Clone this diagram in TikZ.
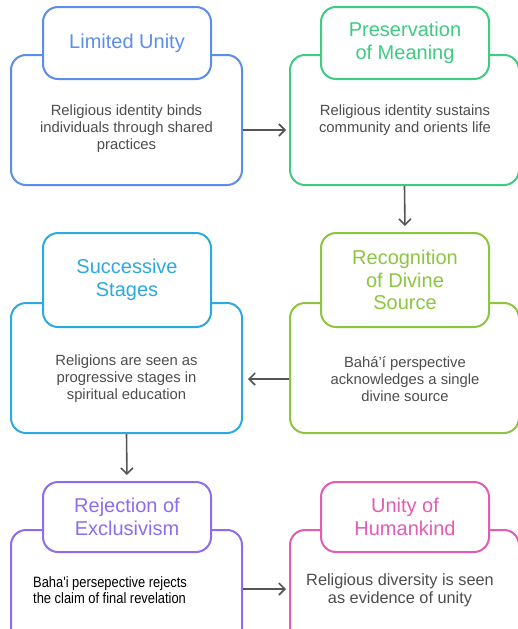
\documentclass[tikz,border=0pt]{standalone}
\usepackage{fontspec}
\setmainfont{Liberation Sans}
\newfontfamily\narrowfont[FakeStretch=0.86]{Liberation Sans}
\usetikzlibrary{arrows.meta}

\definecolor{cblue}{HTML}{5B8DEE}
\definecolor{cgreen}{HTML}{3FCB80}
\definecolor{ccyan}{HTML}{2DA9E1}
\definecolor{clime}{HTML}{8CC63F}
\definecolor{cpurple}{HTML}{8E6CF0}
\definecolor{cpink}{HTML}{E35BB4}
\definecolor{bodygray}{HTML}{4D4D4D}
\definecolor{linkgray}{HTML}{555555}

\tikzset{
  outerbox/.style={draw=#1, line width=2pt, rounded corners=15pt, fill=white,
    minimum height=130pt, inner sep=0pt},
  leftcol/.style={minimum width=231pt},
  rightcol/.style={minimum width=229pt},
  titlebox/.style={draw=#1, line width=2pt, rounded corners=15pt, fill=white,
    minimum width=168pt, inner sep=0pt, text=#1, align=center,
    font=\fontsize{20}{23.5}\selectfont},
  bodytext/.style={text=bodygray, align=center, inner sep=0pt,
    font=\fontsize{14.8}{17}\selectfont},
  conn/.style={draw=linkgray, line width=1.6pt,
    -{Straight Barb[length=6pt,width=12pt,line width=1.6pt]}},
}

\begin{document}
\begin{tikzpicture}[x=1pt,y=-1pt]
\useasboundingbox (0,0) rectangle (518,629);
\clip (0,0) rectangle (518,629);

% row 1
\node[outerbox=cblue, leftcol] (lu) at (126.5,120) {};
\node[titlebox=cblue, minimum height=72pt] (lu-t) at (127,43) {Limited Unity};
\node[bodytext] (lu-b) at (126.5,129) {Religious identity binds\\individuals through shared\\practices};

\node[outerbox=cgreen, rightcol] (pm) at (404.5,120) {};
\node[titlebox=cgreen, minimum height=72pt] (pm-t) at (405,43) {Preservation\\of Meaning};
\node[bodytext] (pm-b) at (405,120.5) {Religious identity sustains\\community and orients life};

% row 2
\node[outerbox=ccyan, leftcol] (ss) at (126.5,368) {};
\node[titlebox=ccyan, minimum height=94pt] (ss-t) at (127,280) {Successive\\Stages};
\node[bodytext] (ss-b) at (126.5,379) {Religions are seen as\\progressive stages in\\spiritual education};

\node[outerbox=clime, rightcol] (rd) at (404.5,368) {};
\node[titlebox=clime, minimum height=94pt, font=\fontsize{20}{22.5}\selectfont] (rd-t) at (405,280) {Recognition\\of Divine\\Source};
\node[bodytext] (rd-b) at (405,379) {Bah\'a'\'i perspective\\acknowledges a single\\divine source};

% row 3
\node[outerbox=cpurple, leftcol] (re) at (126.5,595) {};
\node[titlebox=cpurple, minimum height=70pt, font=\fontsize{20}{22.5}\selectfont] (re-t) at (127,517) {Rejection of\\Exclusivism};
\node[inner sep=0pt, align=left, anchor=west, text=black,
      font=\narrowfont\fontsize{15}{16.5}\selectfont] (re-b) at (33,590)
      {Baha'i persepective rejects\\the claim of final revelation};

\node[outerbox=cpink, rightcol] (uh) at (404.5,595) {};
\node[titlebox=cpink, minimum height=70pt, font=\fontsize{20}{22.5}\selectfont] (uh-t) at (405,517) {Unity of\\Humankind};
\node[bodytext, font=\fontsize{16.3}{18}\selectfont] (uh-b) at (400,590) {Religious diversity is seen\\as evidence of unity};

% connectors
\draw[conn, shorten >=3pt] ([yshift=-10pt]lu.east) -- ([yshift=-10pt]pm.west);
\draw[conn, shorten >=6pt] (pm.south) -- (rd-t.north);
\draw[conn, shorten >=5pt] ([yshift=-11pt]rd.west) -- ([yshift=-11pt]ss.east);
\draw[conn, shorten >=6pt] (ss.south) -- (re-t.north);
\draw[conn, shorten >=3pt] ([yshift=6pt]re.east) -- ([yshift=6pt]uh.west);
\end{tikzpicture}
\end{document}
